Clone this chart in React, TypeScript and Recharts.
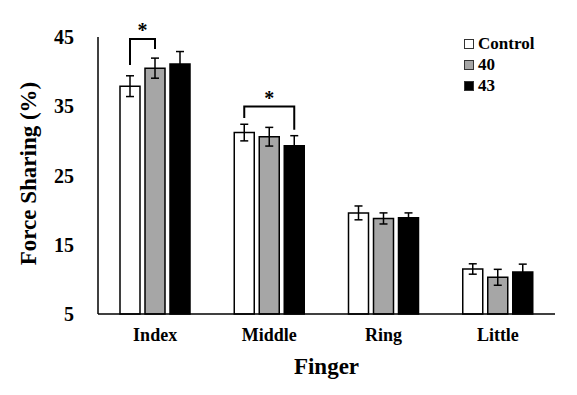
import { Bar, BarChart, ErrorBar, LabelList, Legend, XAxis, YAxis } from "recharts";

const fingers = ["Index", "Middle", "Ring", "Little"];
const control = [37.9, 31.2, 19.6, 11.5];
const temp40 = [40.5, 30.6, 18.8, 10.3];
const temp43 = [41.1, 29.3, 18.9, 11.05];
const controlErr = [1.5, 1.2, 1.0, 0.75];
const temp40Err = [1.45, 1.35, 0.8, 1.15];
const temp43Err = [1.8, 1.45, 0.7, 1.15];

const seriesNames = ["Control", "40", "43"];
const seriesFills = ["#ffffff", "#a6a6a6", "#000000"];

// significance brackets, drawn from the Control bar of a finger
const sigTop = [44.7, 34.95, null, null];
const sigLeft = [40.95, 33.3, null, null];
const sigRight = [43.25, 31.6, null, null];
const sigSpan = [1, 2, null, null];

const yTicks = [5, 15, 25, 35, 45];

const FONT = "Liberation Serif, Times New Roman, Times, serif";
const BAR_SIZE = 20;
const BAR_GAP = 5;
const Y_MIN = 5;

const data = fingers.map((f, i) => ({
  finger: f,
  Control: control[i],
  "40": temp40[i],
  "43": temp43[i],
  controlErr: controlErr[i],
  err40: temp40Err[i],
  err43: temp43Err[i],
  sigTop: sigTop[i],
}));

function SigBracket(props: any) {
  const { x, y, width, height, index } = props;
  const top = sigTop[index];
  if (top == null) return null;
  const value = control[index];
  const px = height / (value - Y_MIN);
  const yOf = (v: number) => y + height - (v - Y_MIN) * px;
  const x1 = x + width / 2;
  const x2 = x1 + (sigSpan[index] as number) * (width + BAR_GAP);
  const yt = yOf(top);
  return (
    <g>
      <polyline
        points={`${x1},${yOf(sigLeft[index] as number)} ${x1},${yt} ${x2},${yt} ${x2},${yOf(sigRight[index] as number)}`}
        fill="none"
        stroke="#000"
        strokeWidth={2}
      />
      <text x={(x1 + x2) / 2} y={yt - 2} textAnchor="middle" fontFamily={FONT} fontWeight="bold" fontSize={20}>
        *
      </text>
    </g>
  );
}

function LegendBox() {
  return (
    <div style={{ fontFamily: FONT, fontWeight: "bold", fontSize: 17, color: "#000" }}>
      {seriesNames.map((name, i) => (
        <div key={name} style={{ display: "flex", alignItems: "center", height: 21 }}>
          <span
            style={{
              width: 8,
              height: 8,
              border: "1px solid #333",
              background: seriesFills[i],
              marginRight: 4,
            }}
          />
          <span style={{ lineHeight: "21px" }}>{name}</span>
        </div>
      ))}
    </div>
  );
}

export default function App() {
  return (
    <div style={{ position: "absolute", left: 0, top: 0, width: 577, height: 395, background: "#fff" }}>
      <BarChart
        width={577}
        height={395}
        data={data}
        margin={{ top: 37, right: 22, bottom: 0, left: 0 }}
        barSize={BAR_SIZE}
        barGap={BAR_GAP}
      >
        <XAxis
          dataKey="finger"
          height={81}
          tickLine={false}
          tickSize={0}
          tickMargin={14}
          axisLine={{ stroke: "#000", strokeWidth: 1.5 }}
          tick={{ fill: "#000", fontFamily: FONT, fontWeight: "bold", fontSize: 18 }}
          label={({ viewBox }: any) => (
            <text
              x={viewBox.x + viewBox.width / 2}
              y={374}
              textAnchor="middle"
              fontFamily={FONT}
              fontWeight="bold"
              fontSize={23}
              fill="#000"
            >
              Finger
            </text>
          )}
        />
        <YAxis
          width={98}
          domain={[5, 45]}
          ticks={yTicks}
          tickLine={false}
          tickSize={0}
          tickMargin={24}
          axisLine={{ stroke: "#000", strokeWidth: 1.5 }}
          tick={{ fill: "#000", fontFamily: FONT, fontWeight: "bold", fontSize: 20 }}
          label={({ viewBox }: any) => {
            const cx = 28;
            const cy = viewBox.y + viewBox.height / 2 - 2;
            return (
              <text
                x={cx}
                y={cy}
                transform={`rotate(-90 ${cx} ${cy})`}
                textAnchor="middle"
                dominantBaseline="central"
                fontFamily={FONT}
                fontWeight="bold"
                fontSize={23}
                fill="#000"
              >
                Force Sharing (%)
              </text>
            );
          }}
        />
        <Legend
          layout="vertical"
          align="center"
          verticalAlign="middle"
          content={<LegendBox />}
          wrapperStyle={{ position: "absolute", left: 464, top: 33, width: 100 }}
        />
        <Bar dataKey="Control" name="Control" fill={seriesFills[0]} stroke="#000" strokeWidth={1.5} isAnimationActive={false}>
          <ErrorBar dataKey="controlErr" width={4} stroke="#000" strokeWidth={1.5} />
          <LabelList dataKey="sigTop" content={<SigBracket />} />
        </Bar>
        <Bar dataKey="40" name="40" fill={seriesFills[1]} stroke="#000" strokeWidth={1.5} isAnimationActive={false}>
          <ErrorBar dataKey="err40" width={4} stroke="#000" strokeWidth={1.5} />
        </Bar>
        <Bar dataKey="43" name="43" fill={seriesFills[2]} stroke="#000" strokeWidth={1.5} isAnimationActive={false}>
          <ErrorBar dataKey="err43" width={4} stroke="#000" strokeWidth={1.5} />
        </Bar>
      </BarChart>
    </div>
  );
}
